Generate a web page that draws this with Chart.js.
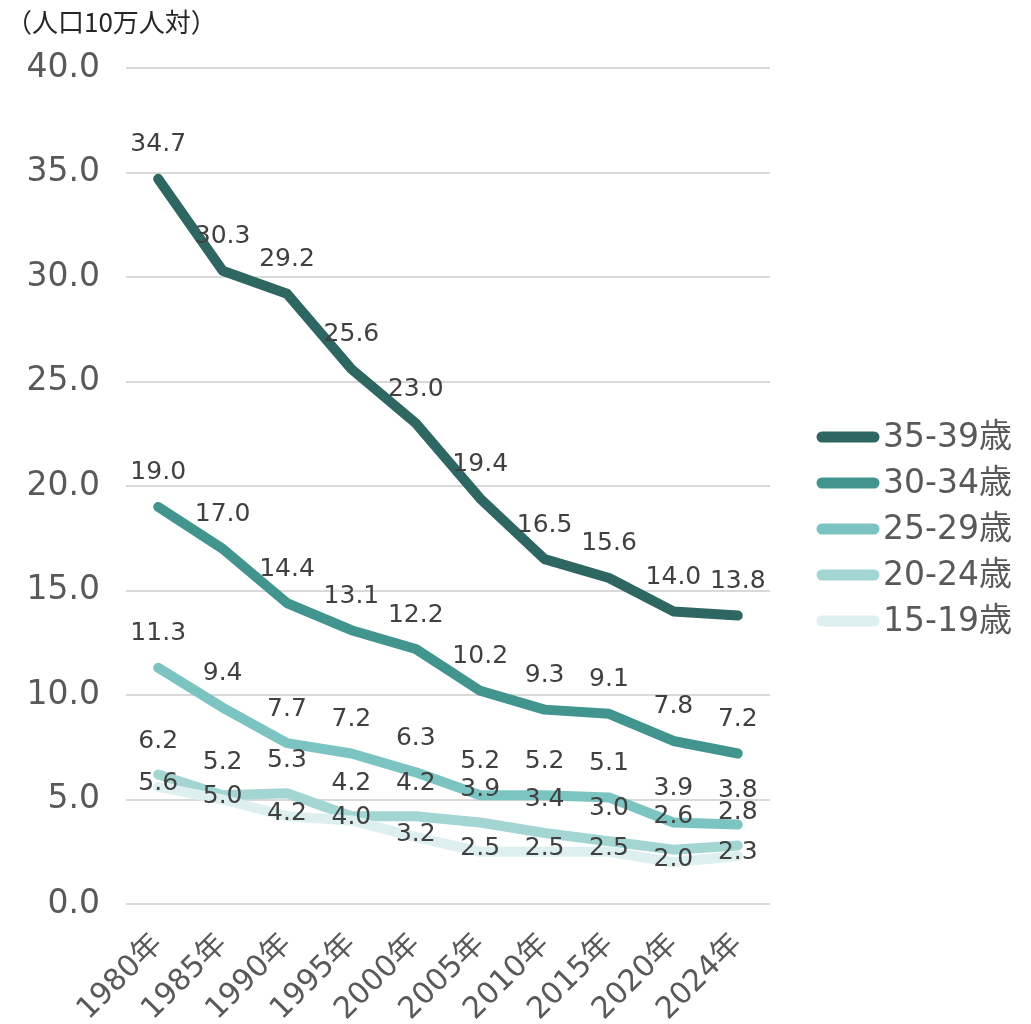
<!DOCTYPE html>
<html><head><meta charset="utf-8">
<script src="https://cdn.jsdelivr.net/npm/chart.js@4"></script>
<style>html,body{margin:0;padding:0;background:#fff;}canvas{display:block;}</style>
</head><body>
<canvas id="c" width="1031" height="1024"></canvas>
<script>
const categories = ['1980年','1985年','1990年','1995年','2000年','2005年','2010年','2015年','2020年','2024年'];
const seriesNames = ['35-39歳','30-34歳','25-29歳','20-24歳','15-19歳'];
const age35_39 = [34.7, 30.3, 29.2, 25.6, 23.0, 19.4, 16.5, 15.6, 14.0, 13.8];
const age30_34 = [19.0, 17.0, 14.4, 13.1, 12.2, 10.2, 9.3, 9.1, 7.8, 7.2];
const age25_29 = [11.3, 9.4, 7.7, 7.2, 6.3, 5.2, 5.2, 5.1, 3.9, 3.8];
const age20_24 = [6.2, 5.2, 5.3, 4.2, 4.2, 3.9, 3.4, 3.0, 2.6, 2.8];
const age15_19 = [5.6, 5.0, 4.2, 4.0, 3.2, 2.5, 2.5, 2.5, 2.0, 2.3];
const unitLabel = '（人口10万人対）';

const FONT = '"DejaVu Sans", "Noto Sans CJK JP", sans-serif';
const CJK = '"Noto Sans CJK JP", sans-serif';
const colors = ['#2e6661', '#42958f', '#7cc4c1', '#a3d6d3', '#ddefee'];
const labelOffsets = [34, 34, 34, 33, 3];
const seriesData = [age35_39, age30_34, age25_29, age20_24, age15_19];

const order = [4, 3, 2, 1, 0];
const datasets = order.map(i => ({
  label: seriesNames[i],
  data: seriesData[i],
  borderColor: colors[i],
  backgroundColor: colors[i],
  borderWidth: 10,
  borderCapStyle: 'round',
  borderJoinStyle: 'round',
  pointRadius: 0,
  pointHoverRadius: 0,
  tension: 0,
  fill: false,
  _idx: i
}));

const extras = {
  id: 'extras',
  afterDatasetsDraw(chart) {
    const ctx = chart.ctx;
    ctx.save();
    ctx.font = '25px ' + FONT;
    ctx.fillStyle = '#404040';
    ctx.textAlign = 'center';
    ctx.textBaseline = 'middle';
    chart.data.datasets.forEach((ds, di) => {
      const meta = chart.getDatasetMeta(di);
      const off = labelOffsets[ds._idx];
      meta.data.forEach((pt, j) => {
        ctx.fillText(ds.data[j].toFixed(1), pt.x, pt.y - off);
      });
    });
    ctx.font = '26px ' + CJK;
    ctx.fillStyle = '#262626';
    ctx.textAlign = 'left';
    ctx.fillText(unitLabel, 6, 22);
    const lx0 = 822, lx1 = 874, tx = 883, y0 = 437, dy = 46;
    seriesNames.forEach((name, i) => {
      const y = y0 + i * dy;
      ctx.strokeStyle = colors[i];
      ctx.lineWidth = 11;
      ctx.lineCap = 'round';
      ctx.beginPath();
      ctx.moveTo(lx0, y);
      ctx.lineTo(lx1, y);
      ctx.stroke();
      ctx.font = '33px ' + FONT;
      ctx.fillStyle = '#595959';
      ctx.textAlign = 'left';
      ctx.fillText(name, tx, y + 1);
    });
    ctx.restore();
  }
};

new Chart(document.getElementById('c'), {
  type: 'line',
  data: { labels: categories, datasets },
  options: {
    responsive: false,
    animation: false,
    events: [],
    layout: { autoPadding: false, padding: { left: 1, right: 261, top: 68, bottom: 0 } },
    plugins: { legend: { display: false }, title: { display: false }, tooltip: { enabled: false } },
    scales: {
      x: {
        offset: true,
        grid: { display: false, drawTicks: false },
        border: { display: false },
        afterFit: s => { s.height = 120; },
        ticks: {
          color: '#595959',
          font: { family: FONT, size: 30 },
          maxRotation: 45, minRotation: 45,
          padding: 23,
          autoSkip: false
        }
      },
      y: {
        min: 0, max: 40,
        grid: { color: '#d9d9d9', lineWidth: 2, drawTicks: false },
        border: { display: false },
        afterFit: s => { s.width = 125; },
        ticks: {
          stepSize: 5,
          color: '#595959',
          font: { family: FONT, size: 33 },
          padding: 26,
          callback: v => Number(v).toFixed(1)
        }
      }
    }
  },
  plugins: [extras]
});
</script>
</body></html>
